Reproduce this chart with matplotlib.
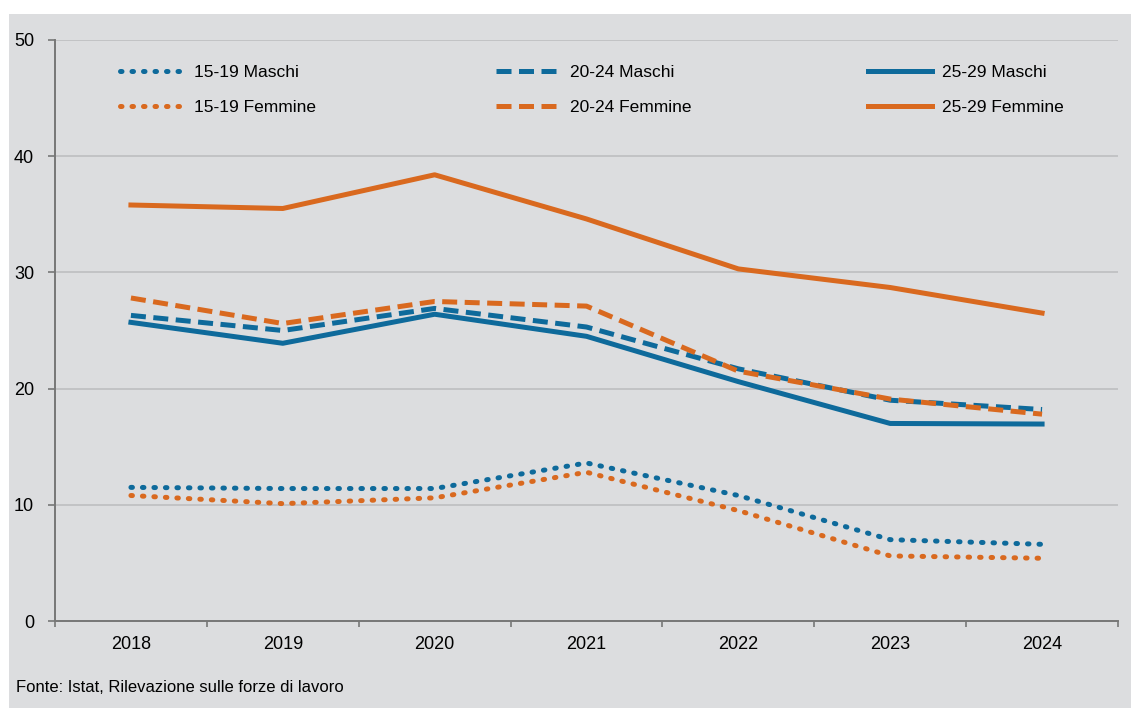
import matplotlib
matplotlib.use('Agg')
from matplotlib import pyplot as plt
from matplotlib.patches import Rectangle

years = ['2018', '2019', '2020', '2021', '2022', '2023', '2024']

m_15_19 = [11.5, 11.4, 11.4, 13.6, 10.8, 7.0, 6.6]
f_15_19 = [10.8, 10.1, 10.6, 12.8, 9.5, 5.6, 5.4]
m_20_24 = [26.3, 25.0, 26.9, 25.3, 21.7, 19.0, 18.2]
f_20_24 = [27.8, 25.6, 27.5, 27.1, 21.5, 19.1, 17.8]
m_25_29 = [25.7, 23.9, 26.4, 24.5, 20.6, 17.0, 16.95]
f_25_29 = [35.8, 35.5, 38.4, 34.6, 30.3, 28.7, 26.5]

blue = '#0e6a9b'
orange = '#d9691f'
bg = '#dcdddf'

plt.rcParams['font.family'] = ['Liberation Sans', 'DejaVu Sans']

fig = plt.figure(figsize=(11.31, 7.08), dpi=100)
fig.patch.set_facecolor('white')
fig.patches.append(Rectangle((9/1131, 0), 1 - 9/1131, (708-14)/708,
                             transform=fig.transFigure, facecolor=bg,
                             edgecolor='none', zorder=-10))

ax = fig.add_axes([55/1131, 1 - 621/708, (1118-55)/1131, (621-40)/708])
ax.set_facecolor(bg)

x = list(range(len(years)))
lw = 3.6
dot = (0, (0.3, 2.0))
dash = (0, (3.0, 1.5))

l1, = ax.plot(x, m_15_19, color=blue, lw=lw, ls=dot, dash_capstyle='round', label='15-19 Maschi')
l2, = ax.plot(x, f_15_19, color=orange, lw=lw, ls=dot, dash_capstyle='round', label='15-19 Femmine')
l3, = ax.plot(x, m_20_24, color=blue, lw=lw, ls=dash, label='20-24 Maschi')
l4, = ax.plot(x, f_20_24, color=orange, lw=lw, ls=dash, label='20-24 Femmine')
l5, = ax.plot(x, m_25_29, color=blue, lw=lw, label='25-29 Maschi')
l6, = ax.plot(x, f_25_29, color=orange, lw=lw, label='25-29 Femmine')

ax.set_xlim(-0.5, len(years) - 0.5)
ax.set_ylim(0, 50)
ax.set_yticks([0, 10, 20, 30, 40, 50])
ax.yaxis.grid(True, color='#bdbec0', lw=1.2)
ax.set_axisbelow(True)

ax.set_xticks(x)
ax.set_xticklabels(years)
ax.set_xticks([i - 0.5 for i in range(len(years) + 1)], minor=True)
ax.tick_params(axis='x', which='major', length=0, pad=11, labelsize=13)
ax.tick_params(axis='x', which='minor', length=4, color='#777777', width=1.2)
ax.tick_params(axis='y', length=5, color='#777777', width=1.2, pad=10, labelsize=13)

for s in ['top', 'right']:
    ax.spines[s].set_visible(False)
for s in ['left', 'bottom']:
    ax.spines[s].set_color('#777777')
    ax.spines[s].set_linewidth(1.4)

leg_pos = [(104/1131, 1 - 49/708), (480/1131, 1 - 49/708), (852/1131, 1 - 49/708)]
pairs = [(l1, l2), (l3, l4), (l5, l6)]
for pos, pr in zip(leg_pos, pairs):
    lg = fig.legend(handles=list(pr), loc='upper left', bbox_to_anchor=pos,
                    frameon=False, fontsize=12.5, handlelength=3.7,
                    handletextpad=0.6, labelspacing=1.15)

fig.text(16/1131, 1 - 688/708, 'Fonte: Istat, Rilevazione sulle forze di lavoro',
         fontsize=12, va='center', ha='left')

fig.savefig('out.png', dpi=100)
